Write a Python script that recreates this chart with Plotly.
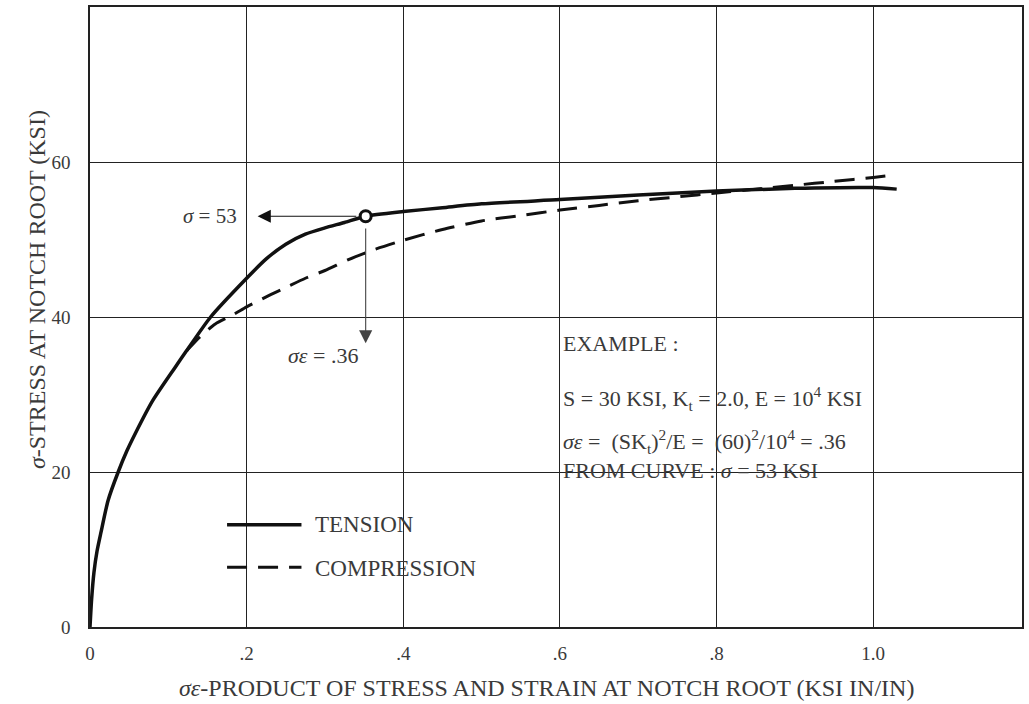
import plotly.graph_objects as go

# Data
tension_x = [0, 0.002, 0.005, 0.009, 0.014, 0.023, 0.036, 0.047, 0.058, 0.080, 0.108, 0.123,
             0.154, 0.2, 0.225, 0.25, 0.275, 0.3, 0.325, 0.352, 0.4, 0.45, 0.5, 0.6, 0.7,
             0.8, 0.9, 1.0, 1.03]
tension_y = [0, 3.5, 7.0, 9.8, 12.2, 16.3, 20, 22.7, 25, 29.2, 33.4, 35.6,
             40, 45, 47.5, 49.4, 50.7, 51.5, 52.2, 53, 53.6, 54.1, 54.6, 55.15, 55.75,
             56.25, 56.6, 56.7, 56.5]

compression_x = [0.123, 0.14, 0.16, 0.183, 0.2, 0.225, 0.25, 0.275, 0.3, 0.33, 0.36, 0.4,
                 0.45, 0.5, 0.55, 0.6, 0.65, 0.7, 0.75, 0.8, 0.85, 0.9, 0.95, 1.0, 1.025]
compression_y = [35.6, 37.4, 39.1, 40.3, 41.3, 42.6, 43.8, 45.0, 46.0, 47.4, 48.6, 49.9,
                 51.3, 52.4, 53.1, 53.8, 54.4, 55.0, 55.5, 56.0, 56.5, 57.0, 57.5, 58.0, 58.3]

example_x = [0.352]
example_y = [53]

x_tickvals = [0, 0.2, 0.4, 0.6, 0.8, 1.0]
x_ticktext = ["0", ".2", ".4", ".6", ".8", "1.0"]
y_tickvals = [0, 20, 40, 60]
y_ticktext = ["0", "20", "40", "60"]

FONT = "Liberation Serif"
INK = "#111111"
TXT = "#3a3a3a"

fig = go.Figure()
fig.add_trace(go.Scatter(x=tension_x, y=tension_y, mode="lines",
                         line=dict(color=INK, width=3.5, shape="spline", smoothing=0.6),
                         showlegend=False, hoverinfo="skip"))
fig.add_trace(go.Scatter(x=compression_x, y=compression_y, mode="lines",
                         line=dict(color=INK, width=3, dash="20px,11px", shape="spline", smoothing=0.6),
                         showlegend=False, hoverinfo="skip"))
fig.add_trace(go.Scatter(x=example_x, y=example_y, mode="markers",
                         marker=dict(size=11, color="white", line=dict(color=INK, width=3)),
                         showlegend=False, hoverinfo="skip"))

ann = []
ann.append(dict(x=0.214, y=53, ax=0.342, ay=53, xref="x", yref="y", axref="x", ayref="y",
                showarrow=True, arrowhead=2, arrowsize=2.4, arrowwidth=1.1, arrowcolor=INK, text=""))
ann.append(dict(x=0.352, y=36.6, ax=0.352, ay=51.6, xref="x", yref="y", axref="x", ayref="y",
                showarrow=True, arrowhead=2, arrowsize=2.4, arrowwidth=1.1, arrowcolor="#444", text=""))
ann.append(dict(x=0.19, y=53, xref="x", yref="y", text="<i>σ</i> = 53", showarrow=False,
                xanchor="right", font=dict(family=FONT, size=21, color=TXT)))
ann.append(dict(x=0.297, y=35.0, xref="x", yref="y", text="<i>σε</i> = .36", showarrow=False,
                xanchor="center", font=dict(family=FONT, size=22, color=TXT)))
ann.append(dict(x=0.602, y=36.6, xref="x", yref="y", text="EXAMPLE :", showarrow=False,
                xanchor="left", font=dict(family=FONT, size=22, color=TXT)))
ann.append(dict(x=0.602, y=29.5, xref="x", yref="y",
                text="S = 30 KSI, K<sub>t</sub> = 2.0, E = 10<sup>4</sup> KSI", showarrow=False,
                xanchor="left", font=dict(family=FONT, size=22, color=TXT)))
ann.append(dict(x=0.602, y=22.2, xref="x", yref="y", align="left",
                text="<i>σε</i> =  (SK<sub>t</sub>)<sup>2</sup>/E =  (60)<sup>2</sup>/10<sup>4</sup> = .36"
                     "<br>FROM CURVE : <i>σ</i> = 53 KSI",
                showarrow=False, xanchor="left", font=dict(family=FONT, size=22, color=TXT)))
ann.append(dict(x=0.285, y=13.2, xref="x", yref="y", text="TENSION", showarrow=False,
                xanchor="left", font=dict(family=FONT, size=23, color=TXT)))
ann.append(dict(x=0.285, y=7.6, xref="x", yref="y", text="COMPRESSION", showarrow=False,
                xanchor="left", font=dict(family=FONT, size=23, color=TXT)))
ann.append(dict(x=0.49, y=-0.098, xref="paper", yref="paper", yanchor="middle",
                text="<i>σε</i>-PRODUCT OF STRESS AND STRAIN AT NOTCH ROOT (KSI IN/IN)",
                showarrow=False, font=dict(family=FONT, size=24, color=TXT)))
ann.append(dict(x=-0.073, y=0.545, xref="paper", yref="paper",
                text="<i>σ</i>-STRESS AT NOTCH ROOT (KSI)", textangle=-90,
                showarrow=False, font=dict(family=FONT, size=24, color=TXT)))

shapes = [
    dict(type="line", xref="x", yref="y", x0=0.175, x1=0.27, y0=13.2, y1=13.2,
         line=dict(color=INK, width=3.5)),
    dict(type="line", xref="x", yref="y", x0=0.175, x1=0.27, y0=7.7, y1=7.7,
         line=dict(color=INK, width=3, dash="20px,11px")),
]

fig.update_layout(
    width=1029, height=704,
    margin=dict(l=90, r=6, t=5, b=77),
    paper_bgcolor="white", plot_bgcolor="white",
    annotations=ann, shapes=shapes,
    font=dict(family=FONT, size=16, color=TXT),
)
fig.update_xaxes(range=[0, 1.19], tickvals=x_tickvals, ticktext=x_ticktext,
                 showgrid=True, gridcolor="#222", gridwidth=1,
                 showline=True, linecolor="#222", linewidth=1.5, mirror=True,
                 zeroline=False, ticks="", ticklabelstandoff=8,
                 tickfont=dict(family=FONT, size=19, color=TXT))
fig.update_yaxes(range=[0, 80], tickvals=y_tickvals, ticktext=y_ticktext,
                 showgrid=True, gridcolor="#222", gridwidth=1,
                 showline=True, linecolor="#222", linewidth=1.5, mirror=True,
                 zeroline=False, ticks="", ticklabelstandoff=14,
                 tickfont=dict(family=FONT, size=19, color=TXT))

fig.write_html("out.html")
